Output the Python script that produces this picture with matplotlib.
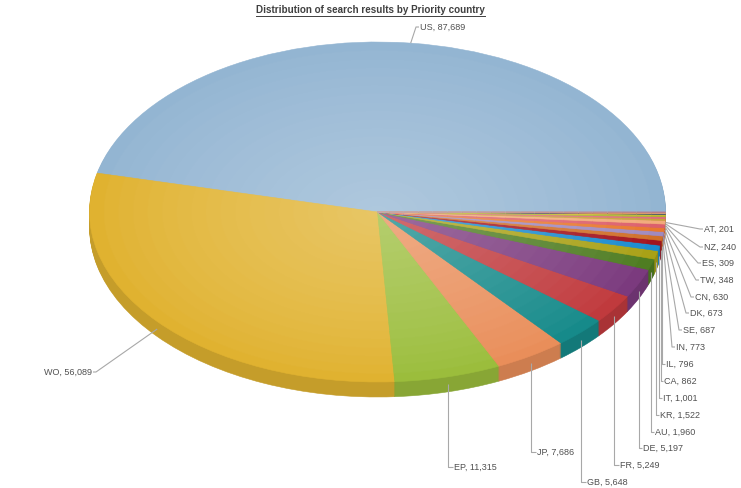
import numpy as np
import matplotlib.pyplot as plt
from matplotlib.colors import to_rgb
from matplotlib.lines import Line2D

# data, counter-clockwise from 3 o'clock
countries = ["US", "WO", "EP", "JP", "GB", "FR", "DE", "AU", "KR", "IT",
             "CA", "IL", "IN", "SE", "DK", "CN", "TW", "ES", "NZ", "AT"]
counts = [87689, 56089, 11315, 7686, 5648, 5249, 5197, 1960, 1522, 1001,
          862, 796, 773, 687, 673, 630, 348, 309, 240, 201]
# small unlabeled slices just below 3 o'clock (estimated)
other_counts = [120, 90, 70, 60, 45, 35]

colors = ["#93b5d2", "#e0b230", "#9bbd3c", "#e98e5a", "#168a8a", "#c03a3d",
          "#7b3a7e", "#4f7d22", "#a9a116", "#1b8bd0", "#a3141f", "#d0702a",
          "#a08abf", "#e8782e", "#dc5f6c", "#f2aa7a", "#c8a040", "#e06a80",
          "#a8b830", "#d8c030"]
other_colors = ["#203c80", "#f09040", "#c8a0a8", "#7aa0c0", "#e0c060", "#b07090"]

title = "Distribution of search results by Priority country"

# label text anchors in pixels (left x, centre y); WO is right aligned
label_pos = {
    "US": (420, 27), "WO": (92, 372), "EP": (454, 467), "JP": (537, 452),
    "GB": (587, 482), "FR": (620, 465), "DE": (643, 448), "AU": (655, 432),
    "KR": (660, 415), "IT": (663, 398), "CA": (664, 381), "IL": (666, 364),
    "IN": (676, 347), "SE": (683, 330), "DK": (690, 313), "CN": (695, 297),
    "TW": (700, 280), "ES": (702, 263), "NZ": (704, 247), "AT": (704, 229),
}

W, H = 741, 488
CX, CY, RX, RY = 377.5, 212, 288, 170
DEPTH = 15


def to_data(px, py):
    return (px - CX) / RX, (CY - py) / RY


def shade(c, k):
    r, g, b = to_rgb(c)
    return (r * k, g * k, b * k)


def tint(c, k):
    r, g, b = to_rgb(c)
    return (r + (1 - r) * k, g + (1 - g) * k, b + (1 - b) * k)


def fix_edges(wedges):
    for w in wedges:
        w.set_edgecolor(w.get_facecolor())
        w.set_linewidth(0.4)


values = counts + other_counts
cols = colors + other_colors

fig = plt.figure(figsize=(W / 100, H / 100), dpi=100)
ax = fig.add_axes([0, 0, 1, 1])

# side wall: stack darker pies shifted downward
layers = 15
for i in range(layers, 0, -1):
    wedges, _ = ax.pie(values, colors=[shade(c, 0.88) for c in cols],
                       startangle=0, counterclock=True, radius=1,
                       center=(0, -i * DEPTH / RY / layers))
    fix_edges(wedges)

# top face with a soft radial highlight
for r in np.linspace(1, 0.04, 20):
    wedges, _ = ax.pie(values, colors=[tint(c, 0.26 * (1 - r) ** 0.8) for c in cols],
                       startangle=0, counterclock=True, radius=r, center=(0, 0))
    fix_edges(wedges)

ax.set_aspect("auto")
ax.set_xlim(to_data(0, 0)[0], to_data(W, 0)[0])
ax.set_ylim(to_data(0, H)[1], to_data(0, 0)[1])
ax.axis("off")

# labels with leader lines
total = sum(values)
start = 0.0
half_depth = DEPTH / 2 / RY
for name, v in zip(countries, counts):
    mid = np.deg2rad((start + v / 2) / total * 360)
    start += v
    ax_x, ax_y = np.cos(mid), np.sin(mid)
    if ax_y < 0:
        ax_y -= half_depth
    tx, ty = label_pos[name]
    anchor_px = CX + ax_x * RX
    if name == "WO":
        elbow = to_data(tx + 4, ty)
        end = to_data(tx + 1, ty)
        ha = "right"
    else:
        if ax_y < 0 and abs(anchor_px - (tx - 4)) < 8:
            elbow = (ax_x, to_data(0, ty)[1])
        else:
            elbow = to_data(tx - 4, ty)
        end = to_data(tx - 1, ty)
        ha = "left"
    ax.plot([ax_x, elbow[0], end[0]], [ax_y, elbow[1], end[1]],
            color="#a8a8a8", lw=0.8, solid_capstyle="butt")
    lx, ly = to_data(tx, ty)
    ax.text(lx, ly, f"{name}, {v:,}", ha=ha, va="center", fontsize=6.5,
            family="Liberation Sans", color="#505050")

t = fig.text(0.5, 1 - 10 / H, title, ha="center", va="center", fontsize=7.1,
             fontweight="bold", family="Liberation Sans", color="#404040")
fig.canvas.draw()
bb = t.get_window_extent(fig.canvas.get_renderer())
uy = (bb.y0 - 0.5) / H
fig.add_artist(Line2D([bb.x0 / W, bb.x1 / W], [uy, uy], transform=fig.transFigure,
                      color="#404040", lw=0.7))

fig.savefig("out.png", dpi=100)
